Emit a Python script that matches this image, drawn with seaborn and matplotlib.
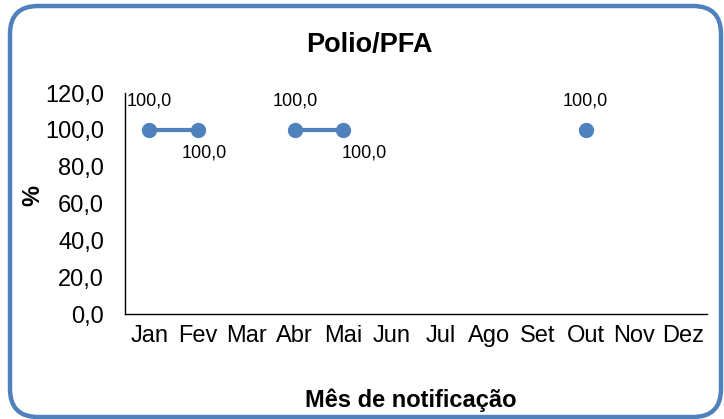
import numpy as np
import pandas as pd
import matplotlib
matplotlib.use("Agg")
import matplotlib.pyplot as plt
from matplotlib.patches import FancyBboxPatch
import seaborn as sns

months = ["Jan", "Fev", "Mar", "Abr", "Mai", "Jun", "Jul", "Ago", "Set", "Out", "Nov", "Dez"]
values = [100.0, 100.0, np.nan, 100.0, 100.0, np.nan, np.nan, np.nan, np.nan, 100.0, np.nan, np.nan]
label_pos = ["above", "below", None, "above", "below", None, None, None, None, "above", None, None]
yticks = [0, 20, 40, 60, 80, 100, 120]

sns.set_theme(style="white")
plt.rcParams["font.family"] = ["Liberation Sans", "DejaVu Sans"]
plt.rcParams["text.color"] = "black"
plt.rcParams["xtick.color"] = "black"
plt.rcParams["ytick.color"] = "black"

color = "#4F81BD"

df = pd.DataFrame({"month": months, "pos": range(len(months)), "value": values})
df["seg"] = df["value"].isna().cumsum()
df = df.dropna(subset=["value"])

fig = plt.figure(figsize=(7.24, 4.19), dpi=100)
ax = fig.add_axes([125 / 724, 105 / 419, 582 / 724, 221 / 419])

sns.lineplot(data=df, x="pos", y="value", units="seg", estimator=None, color=color,
             marker="o", markersize=11, markeredgewidth=0, linewidth=3, ax=ax, legend=False)

label_offsets = {"above": (0, 21), "below": (5, -17)}
for i, (v, lp) in enumerate(zip(values, label_pos)):
    if lp is None or np.isnan(v):
        continue
    dx, dy = label_offsets[lp]
    if months[i] == "Mai":
        dx = 15
    ax.annotate(f"{v:.1f}".replace(".", ","), (i, v), xytext=(dx, dy), textcoords="offset points",
                ha="center", va="center", fontsize=13, color="black")

ax.set_xlim(-0.5, len(months) - 0.5)
ax.set_ylim(0, 120)
ax.set_xticks(range(len(months)))
ax.set_xticklabels(months, fontsize=17, color="black")
ax.set_yticks(yticks)
ax.set_yticklabels([f"{t:.1f}".replace(".", ",") for t in yticks], fontsize=17, color="black")
ax.tick_params(axis="both", length=0, colors="black")
ax.tick_params(axis="x", pad=8)
ax.tick_params(axis="y", pad=15)
for s in ["top", "right"]:
    ax.spines[s].set_visible(False)
for s in ["left", "bottom"]:
    ax.spines[s].set_color("black")
    ax.spines[s].set_linewidth(1.0)
ax.set_xlabel("")
ax.set_ylabel("")

fig.text(369 / 724, 1 - 52 / 419, "Polio/PFA", ha="center", va="baseline", fontsize=19.5,
         fontweight="bold", color="black")
fig.text(33 / 724, 1 - 195 / 419, "%", ha="center", va="center", fontsize=17, fontweight="bold",
         rotation=90, color="black")
fig.text(411 / 724, 1 - 407 / 419, "Mês de notificação", ha="center", va="baseline", fontsize=17,
         fontweight="bold", color="black")

box = FancyBboxPatch((0.10, 0.02), 7.11, 4.11,
                     boxstyle="round,pad=0,rounding_size=0.28",
                     transform=fig.dpi_scale_trans, facecolor="none", edgecolor=color,
                     linewidth=3.2, zorder=10)
fig.patches.append(box)

fig.savefig("out.png", dpi=100)
